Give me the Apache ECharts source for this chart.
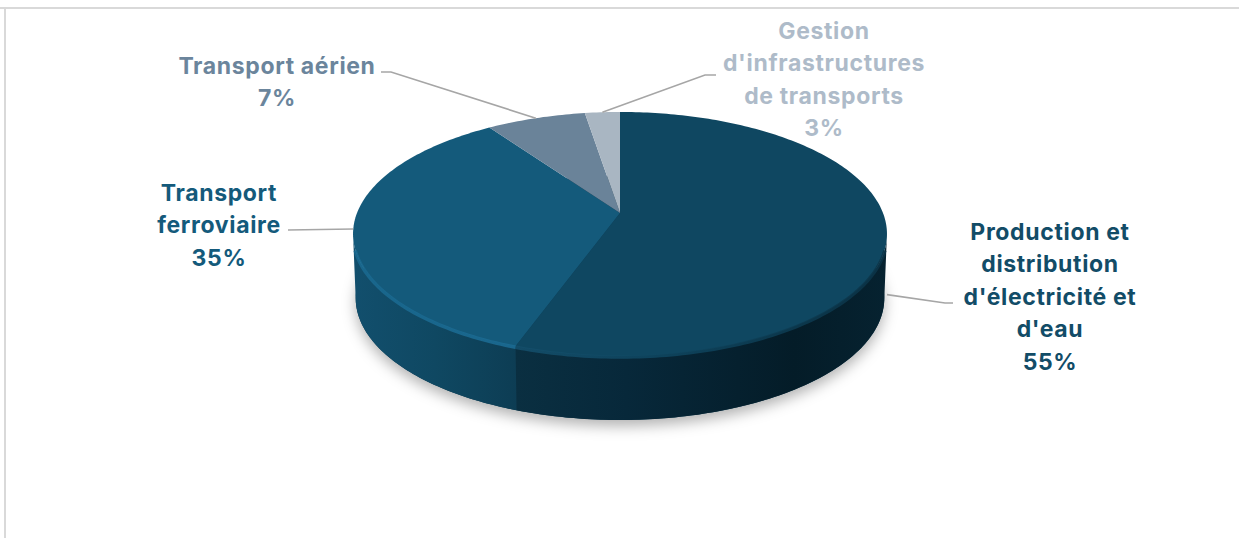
<!DOCTYPE html>
<html>
<head>
<meta charset="utf-8">
<style>
  html, body { margin: 0; padding: 0; background: #fff; }
  #chart { width: 1239px; height: 538px; }
  #chart text { letter-spacing: 0.65px; }
</style>
<script src="https://cdn.jsdelivr.net/npm/echarts@6/dist/echarts.min.js"></script>
</head>
<body>
<div id="chart"></div>
<script>
// Data (slice sizes estimated, the labels show them rounded)
const categories = ['Production et\ndistribution\nd\'électricité et\nd\'eau', 'Transport\nferroviaire', 'Transport aérien', 'Gestion\nd\'infrastructures\nde transports'];
const values = [55.4, 35, 7.1, 2.5];

// Styles per slice
const topColors = ['#0F4761', '#145A7B', '#6A8399', '#A9B6C2'];
const textColors = ['#124C67', '#145A7B', '#6B859C', '#AEBBC9'];
const sideStops = [
    [[0, '#0A2F41'], [0.3, '#07283A'], [0.75, '#041C28'], [1, '#062230']],
    [[0, '#124F6D'], [0.5, '#0F4862'], [1, '#0D3D54']],
    [[0, '#6A8399'], [1, '#6A8399']],
    [[0, '#A9B6C2'], [1, '#A9B6C2']]
];
const rimStops = [
    [[0, '#14506D'], [0.4, '#0F4761'], [1, '#0B3448']],
    [[0, '#1A6A91'], [1, '#1C6E97']],
    [[0, '#6A8399'], [1, '#6A8399']],
    [[0, '#A9B6C2'], [1, '#A9B6C2']]
];

// Layout of the tilted disc
const apexX = 620, apexY = 213;
const scaleX = 263, scaleY = 118.4, perspective = 0.172, depth = 64;
const silhouette = [100, 260];
const rimRange = [107, 253];

// Labels: centre x, first line y, leader line start and elbow
const labelLayout = [
    { x: 1050, y: 232, leader: [[953, 303], [945, 303]], drop: 61 },
    { x: 219, y: 193, leader: [[288, 230]], drop: 0 },
    { x: 277, y: 66, leader: [[381, 72], [391, 72]], drop: 0 },
    { x: 824, y: 31, leader: [[716, 75], [705, 75]], drop: 0 }
];
const lineHeight = 32.4;

// Slice limits in degrees, clockwise from the top
const angles = [];
let sum = 0;
const total = values.reduce(function(a, b) { return a + b; }, 0);
values.forEach(function(v) {
    angles.push([sum / total * 360, (sum + v) / total * 360]);
    sum += v;
});

function project(deg, drop, shrink) {
    const r = deg * Math.PI / 180;
    const u = Math.sin(r), v = Math.cos(r);
    const w = 1 + perspective * v;
    return [
        apexX + (shrink || 1) * scaleX * u / w,
        apexY - scaleY * v / w + (drop || 0)
    ];
}

function arc(from, to, drop, shrink) {
    const pts = [];
    const steps = Math.max(2, Math.ceil(Math.abs(to - from)));
    for (let i = 0; i <= steps; i++) {
        pts.push(project(from + (to - from) * i / steps, drop, shrink));
    }
    return pts;
}

function spanGradient(pts, stops) {
    const xs = pts.map(function(p) { return p[0]; });
    const left = Math.min.apply(null, xs), right = Math.max.apply(null, xs);
    return new echarts.graphic.LinearGradient(left, 0, right, 0, stops.map(function(s) {
        return { offset: s[0], color: s[1] };
    }), true);
}

function renderShadow() {
    return {
        type: 'polygon',
        shape: { points: arc(0, 360, depth, 0.99) },
        style: {
            fill: '#0A2F41',
            shadowBlur: 14,
            shadowColor: 'rgba(0,0,0,0.3)',
            shadowOffsetY: 6
        }
    };
}

function renderSide(params) {
    const i = params.dataIndex;
    const from = Math.max(angles[i][0], silhouette[0]);
    const to = Math.min(angles[i][1], silhouette[1]);
    if (from >= to) return { type: 'group', children: [] };
    const pts = arc(from, to, 0).concat(arc(to, from, depth, 0.99));
    return {
        type: 'polygon',
        shape: { points: pts },
        style: { fill: spanGradient(pts, sideStops[i]) }
    };
}

function renderTop(params) {
    const i = params.dataIndex;
    const a = angles[i];
    const children = [{
        type: 'polygon',
        shape: { points: [[apexX, apexY]].concat(arc(a[0], a[1], 0)) },
        style: { fill: topColors[i] }
    }];
    // bevel on the front edge
    const from = Math.max(a[0], rimRange[0]);
    const to = Math.min(a[1], rimRange[1]);
    if (from < to) {
        const rim = arc(from, to, 1);
        children.push({
            type: 'polyline',
            shape: { points: rim },
            style: { fill: null, stroke: spanGradient(rim, rimStops[i]), lineWidth: 3.5, opacity: 0.85 }
        });
    }
    return { type: 'group', children: children };
}

function renderLabel(params) {
    const i = params.dataIndex;
    const l = labelLayout[i];
    const mid = (angles[i][0] + angles[i][1]) / 2;
    const lines = categories[i].split('\n').concat([Math.round(values[i]) + '%']);
    const children = [{
        type: 'polyline',
        shape: { points: l.leader.concat([project(mid, l.drop)]) },
        style: { fill: null, stroke: '#A6A6A6', lineWidth: 1.6 }
    }];
    lines.forEach(function(t, n) {
        children.push({
            type: 'text',
            style: {
                text: t,
                x: l.x,
                y: l.y + n * lineHeight,
                fill: textColors[i],
                font: '700 23px Inter',
                align: 'center',
                verticalAlign: 'middle'
            }
        });
    });
    return { type: 'group', children: children };
}

function customSeries(fn, z) {
    return {
        type: 'custom',
        coordinateSystem: 'none',
        renderItem: fn,
        z: z,
        silent: true,
        animation: false,
        data: values.map(function(v, i) { return { name: categories[i], value: v }; })
    };
}

document.addEventListener('DOMContentLoaded', function() {
    const chart = echarts.init(document.getElementById('chart'), null, { renderer: 'svg' });
    chart.setOption({
        backgroundColor: '#ffffff',
        animation: false,
        graphic: [
            { type: 'rect', shape: { x: 0, y: 7, width: 1239, height: 2 }, style: { fill: '#D9D9D9' }, z: 0 },
            { type: 'rect', shape: { x: 4, y: 7, width: 2, height: 531 }, style: { fill: '#D9D9D9' }, z: 0 }
        ],
        series: [
            {
                type: 'custom',
                coordinateSystem: 'none',
                renderItem: renderShadow,
                z: 1,
                silent: true,
                data: [0]
            },
            customSeries(renderSide, 2),
            customSeries(renderTop, 3),
            customSeries(renderLabel, 4)
        ]
    });
    window.addEventListener('resize', function() {
        chart.resize();
    });
});
</script>
</body>
</html>
